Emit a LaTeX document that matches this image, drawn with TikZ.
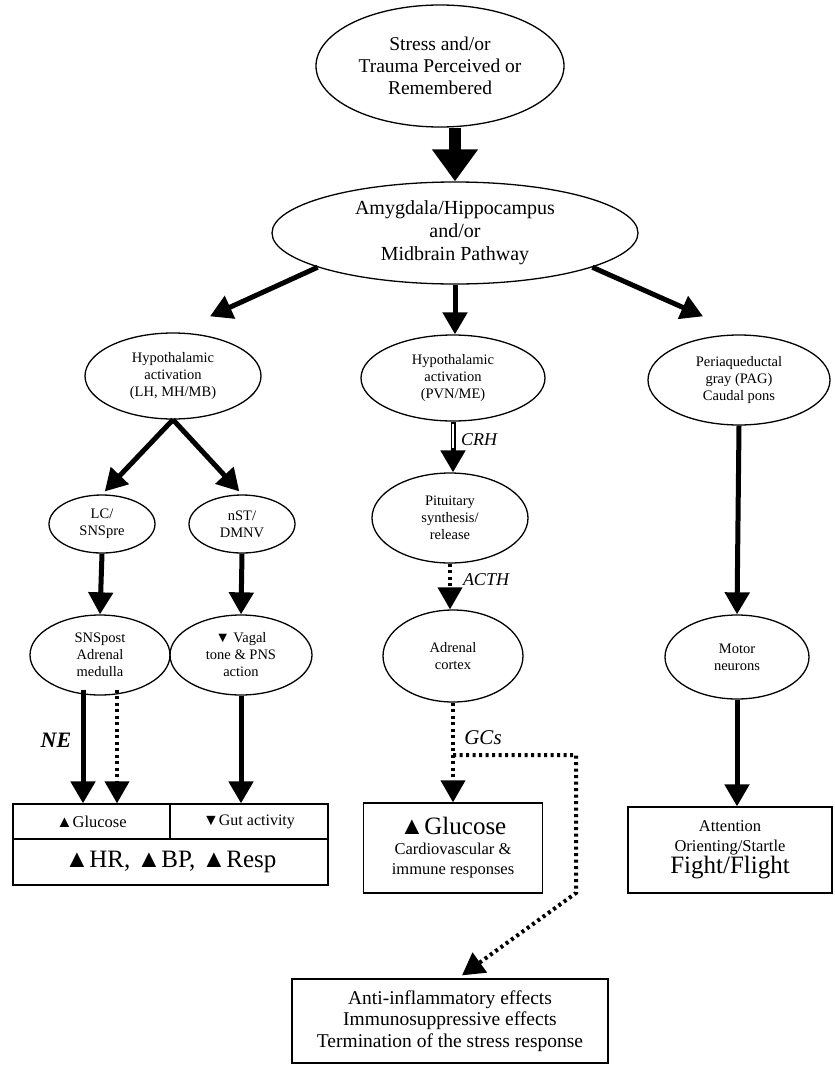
\documentclass[tikz,border=0pt]{standalone}
\usepackage{fontspec}
\setmainfont{Liberation Serif}
\usetikzlibrary{arrows.meta,calc,shapes.geometric}
\tikzset{
  bigoval/.style={draw, ellipse, line width=1.3pt, inner sep=0pt, align=center, font=\fontsize{19.5}{22}\selectfont},
  oval/.style={draw, ellipse, line width=1.3pt, inner sep=0pt, align=center, font=\fontsize{14.5}{17}\selectfont},
  outbox/.style={draw, line width=1.3pt, inner sep=0pt, align=center},
  line/.style={-{Triangle[length=22pt,width=24pt]}, line width=5pt},
  bigline/.style={-{Triangle[length=32pt,width=44pt]}, line width=12pt},
  dotline/.style={line, line width=4pt, dash pattern=on 3pt off 3.5pt},
  flowlabel/.style={font=\itshape\fontsize{18}{18}\selectfont}
}

\begin{document}
\begin{tikzpicture}[x=1pt,y=-1pt]
  \useasboundingbox (0,0) rectangle (835,1068);
  \node[bigoval, minimum width=248pt, minimum height=122pt] (stress) at (440,66) {Stress and/or\\Trauma Perceived or\\Remembered};
  \node[bigoval, font=\fontsize{20}{23}\selectfont, minimum width=366pt, minimum height=102pt] (amyg) at (455,233) {Amygdala/Hippocampus\\and/or\\Midbrain Pathway};

  \node[oval, minimum width=176pt, minimum height=86pt] (hypol) at (173,376) {Hypothalamic\\activation\\(LH, MH/MB)};
  \node[oval, minimum width=184pt, minimum height=86pt] (hypom) at (453,378) {Hypothalamic\\activation\\(PVN/ME)};
  \node[oval, minimum width=182pt, minimum height=90pt] (pag) at (739,380) {Periaqueductal\\gray (PAG)\\Caudal pons};

  \node[oval, minimum width=106pt, minimum height=58pt] (lc) at (102,524) {LC/\\SNSpre};
  \node[oval, minimum width=106pt, minimum height=58pt] (nst) at (242,524) {nST/\\DMNV};
  \node[oval, minimum width=140pt, minimum height=80pt] (snspost) at (100,655) {SNSpost\\Adrenal\\medulla};
  \node[oval, minimum width=142pt, minimum height=80pt] (vagal) at (241,655) {▼ Vagal\\tone \& PNS\\action};

  \node[oval, minimum width=156pt, minimum height=90pt] (pit) at (450,518) {Pituitary\\synthesis/\\release};
  \node[oval, minimum width=140pt, minimum height=92pt] (adr) at (453,656) {Adrenal\\cortex};
  \node[oval, minimum width=144pt, minimum height=84pt] (motor) at (737,657) {Motor\\neurons};

  % outcome boxes
  \node[outbox, minimum width=157pt, minimum height=35pt, font=\fontsize{16.5}{18}\selectfont] (glu) at (91.5,821.5) {▲Glucose};
  \node[outbox, minimum width=158pt, minimum height=35pt, font=\fontsize{16}{18}\selectfont] (gut) at (249,821.5) {▼Gut activity};
  \node[outbox, minimum width=315pt, minimum height=46pt, font=\fontsize{25}{27}\selectfont] (hr) at (170.5,862) {▲HR, ▲BP, ▲Resp};
  \node[outbox, minimum width=179pt, minimum height=90pt, font=\fontsize{16.5}{20}\selectfont] (gbox) at (453,848) {{\fontsize{25}{27}\selectfont ▲Glucose}\\Cardiovascular \&\\immune responses};
  \node[outbox, minimum width=204pt, minimum height=86pt, font=\fontsize{16.5}{20}\selectfont] (fbox) at (730,850) {Attention\\Orienting/Startle\\{\fontsize{25}{27}\selectfont Fight/Flight}};
  \node[outbox, minimum width=316pt, minimum height=84pt, font=\fontsize{19.5}{21.5}\selectfont] (abox) at (450,1021) {Anti-inflammatory effects\\Immunosuppressive effects\\Termination of the stress response};

  % labels on the pathways
  \node[flowlabel, font=\bfseries\itshape\fontsize{22}{22}\selectfont] (ne) at (56,740) {NE};
  \node[flowlabel] (crh) at (479,440) {CRH};
  \node[flowlabel] (acth) at (486,580) {ACTH};
  \node[flowlabel, font=\itshape\fontsize{21}{21}\selectfont] (gcs) at (483,738) {GCs};

  \coordinate (nestart) at ($(snspost.south)+(-17,-6)$);
  \coordinate (epistart) at ($(snspost.south)+(17,-6)$);
  \coordinate (gcbend) at (576,755);
  \coordinate (gcdown) at (576,893);

  \draw[bigline] (amyg.north |- stress.south) -- (amyg.north);
  \draw[line] (amyg.194) -- ($(hypol.north)+(37,-16)$);
  \draw[line] (amyg.south) -- (amyg.south |- hypom.north);
  \draw[line] (amyg.-14) -- ($(pag.north)+(-36,-18)$);

  \draw[line, shorten >=4pt] (hypol.south) -- (lc.north);
  \draw[line, shorten >=4pt] (hypol.south) -- (nst.north);
  \draw[line] (lc.south) -- (snspost.north);
  \draw[line] (nst.south) -- (vagal.north);
  \draw[line] (nestart) -- (nestart |- glu.north);
  \draw[dotline] (epistart) -- (epistart |- glu.north);
  \draw[line] (vagal.south) -- (vagal.south |- gut.north);

  \draw[line] (hypom.south) -- (hypom.south |- pit.north);
  \draw[white, line width=1.8pt, shorten <=2pt, shorten >=24pt] (hypom.south) -- (hypom.south |- pit.north);
  \draw[dotline] (pit.south) -- (pit.south |- adr.north);
  \draw[dotline] (adr.south) -- (adr.south |- gbox.north);
  \draw[dotline] (adr.south |- gcbend) -- (gcbend) -- (gcdown) -- ($(abox.north)+(12,-3)$);

  \draw[line] (pag.south) -- (motor.north);
  \draw[line] (motor.south) -- (motor.south |- fbox.north);
\end{tikzpicture}
\end{document}
